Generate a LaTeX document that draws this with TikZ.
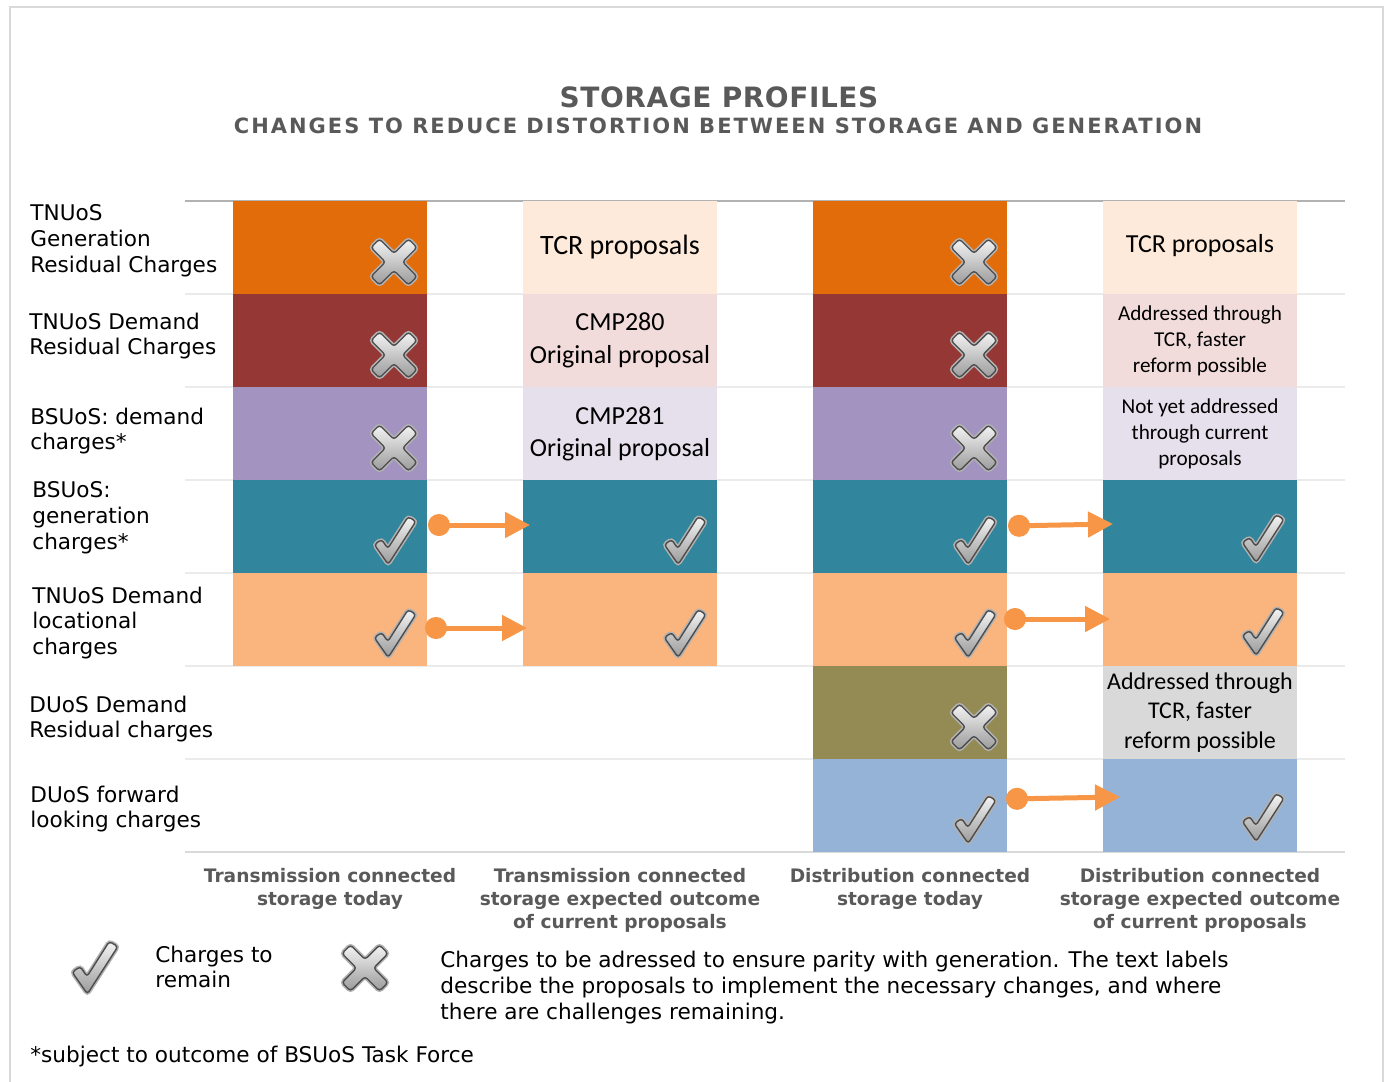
\documentclass[tikz,border=0pt]{standalone}
\usepackage{fontspec}
\setmainfont{DejaVu Sans}
\newfontfamily\cellfont{Carlito}
\definecolor{gencol}{HTML}{E36C0A}
\definecolor{genpale}{HTML}{FDEADA}
\definecolor{demcol}{HTML}{953735}
\definecolor{dempale}{HTML}{F2DCDB}
\definecolor{bsdcol}{HTML}{A393C1}
\definecolor{bsdpale}{HTML}{E5E0EC}
\definecolor{bsgcol}{HTML}{31859C}
\definecolor{loccol}{HTML}{FAB47D}
\definecolor{drescol}{HTML}{948A54}
\definecolor{drespale}{HTML}{D9D9D9}
\definecolor{fwdcol}{HTML}{95B3D7}
\definecolor{arrowcol}{HTML}{F79646}
\definecolor{headgray}{HTML}{595959}
\definecolor{framegray}{HTML}{D9D9D9}
\definecolor{iconlight}{HTML}{F4F4F4}
\definecolor{icondark}{HTML}{9A9A9A}
\definecolor{iconedge}{HTML}{4D4D4D}
\usepackage{tikz}
\usetikzlibrary{positioning,arrows.meta}

\begin{document}
\begin{tikzpicture}[
    x=0.5pt, y=-0.5pt,
    node distance=0pt and 48pt,
    cell/.style={rectangle, minimum width=97pt, minimum height=46.5pt,
                 inner sep=0pt, outer sep=0pt, align=center,
                 font=\cellfont\fontsize{13}{16.5}\selectfont},
    small/.style={font=\cellfont\fontsize{10.6}{13}\selectfont},
    rowlabel/.style={anchor=west, align=left, inner sep=0pt,
                     font=\fontsize{10.8}{12.9}\selectfont},
    colhead/.style={anchor=north, align=center, inner sep=0pt, text=headgray,
                    font=\bfseries\fontsize{9.3}{11.5}\selectfont},
    flow/.style={{Circle[length=11pt]}-{Triangle[length=12.5pt,width=12.5pt]},
                 line width=2.5pt, draw=arrowcol},
    rule/.style={line width=1pt, draw=black!8},
    icon/.style={top color=iconlight, bottom color=icondark, draw=iconedge,
                 line width=0.7pt, rounded corners=1.5pt,
                 preaction={draw, black!30, line width=2.2pt}},
    cross/.pic={
      \shade[icon] (-14.5,23) -- (0,8.5) -- (14.5,23) -- (23,14.5) -- (8.5,0)
        -- (23,-14.5) -- (14.5,-23) -- (0,-8.5) -- (-14.5,-23) -- (-23,-14.5)
        -- (-8.5,0) -- (-23,14.5) -- cycle;
    },
    tick/.pic={
      \shade[icon] (-21.7,5.5) -- (-14.3,0.5) -- (-8.2,9.6) -- (12.1,-22.3)
        -- (19.9,-17.7) -- (-7.8,25.4) -- cycle;
    }
  ]
    \useasboundingbox (0,0) rectangle (1389,1082);
    % frame and table rules
    \draw[line width=1pt, framegray] (10,1082) -- (10,7) -- (1383,7) -- (1383,1082);
    \draw[line width=1pt, black!30] (185,201) -- (1345,201);
    \foreach \y in {294,387,480,573,666,759}
      \draw[rule] (185,\y) -- (1345,\y);
    \draw[line width=1pt, black!15] (185,852) -- (1345,852);

    % headings
    \node[text=headgray, font=\bfseries\fontsize{14}{17}\selectfont\addfontfeature{LetterSpace=2}]
      (title) at (719,97) {STORAGE PROFILES};
    \node[text=headgray, font=\bfseries\fontsize{10.5}{13}\selectfont\addfontfeature{LetterSpace=9.6}]
      (subtitle) at (718,126) {CHANGES TO REDUCE DISTORTION BETWEEN STORAGE AND GENERATION};

    % charge rows
    \node[cell, fill=gencol] (gen1) at (330,247.5) {};
    \node[cell, fill=genpale, right=of gen1, font=\cellfont\fontsize{14}{17}\selectfont] (gen2) {TCR proposals};
    \node[cell, fill=gencol, right=of gen2] (gen3) {};
    \node[cell, fill=genpale, right=of gen3] (gen4) {\raisebox{4pt}{TCR proposals}};

    \node[cell, fill=demcol, below=of gen1] (dem1) {};
    \node[cell, fill=dempale, right=of dem1] (dem2) {CMP280\\Original proposal};
    \node[cell, fill=demcol, right=of dem2] (dem3) {};
    \node[cell, fill=dempale, right=of dem3, small] (dem4) {Addressed through\\TCR, faster\\reform possible};

    \node[cell, fill=bsdcol, below=of dem1] (bsd1) {};
    \node[cell, fill=bsdpale, right=of bsd1] (bsd2) {\raisebox{-9pt}{\begin{tabular}{@{}c@{}}CMP281\\[-0.5pt]Original proposal\end{tabular}}};
    \node[cell, fill=bsdcol, right=of bsd2] (bsd3) {};
    \node[cell, fill=bsdpale, right=of bsd3, small] (bsd4) {Not yet addressed\\through current\\proposals};

    \node[cell, fill=bsgcol, below=of bsd1] (bsg1) {};
    \node[cell, fill=bsgcol, right=of bsg1] (bsg2) {};
    \node[cell, fill=bsgcol, right=of bsg2] (bsg3) {};
    \node[cell, fill=bsgcol, right=of bsg3] (bsg4) {};

    \node[cell, fill=loccol, below=of bsg1] (loc1) {};
    \node[cell, fill=loccol, right=of loc1] (loc2) {};
    \node[cell, fill=loccol, right=of loc2] (loc3) {};
    \node[cell, fill=loccol, right=of loc3] (loc4) {};

    \node[cell, fill=drescol, below=of loc3] (dres3) {};
    \node[cell, fill=drespale, right=of dres3, font=\cellfont\fontsize{12}{14.75}\selectfont] (dres4) {Addressed through\\TCR, faster\\reform possible};

    \node[cell, fill=fwdcol, below=of dres3] (fwd3) {};
    \node[cell, fill=fwdcol, right=of fwd3] (fwd4) {};

    % row labels
    \node[rowlabel] (lgen) at (30,241) {TNUoS\\Generation\\Residual Charges};
    \node[rowlabel] (ldem) at (29,336) {TNUoS Demand\\Residual Charges};
    \node[rowlabel] (lbsd) at (30,431) {BSUoS: demand\\charges*};
    \node[rowlabel] (lbsg) at (32,518) {BSUoS:\\generation\\charges*};
    \node[rowlabel] (lloc) at (32,623) {TNUoS Demand\\locational\\charges};
    \node[rowlabel] (ldres) at (29,719) {DUoS Demand\\Residual charges};
    \node[rowlabel] (lfwd) at (30,809) {DUoS forward\\looking charges};

    % marks
    \pic at ([shift={(-33,-32)}]gen1.south east) {cross};
    \pic at ([shift={(-33,-32)}]dem1.south east) {cross};
    \pic at ([shift={(-33,-32)}]bsd1.south east) {cross};
    \pic at ([shift={(-33,-32)}]gen3.south east) {cross};
    \pic at ([shift={(-33,-32)}]dem3.south east) {cross};
    \pic at ([shift={(-33,-32)}]bsd3.south east) {cross};
    \pic at ([shift={(-33,-32)}]dres3.south east) {cross};
    \pic at ([shift={(-31,-34)}]bsg1.south east) {tick};
    \pic at ([shift={(-31,-34)}]bsg2.south east) {tick};
    \pic at ([shift={(-31,-34)}]bsg3.south east) {tick};
    \pic at ([shift={(-33,-36)}]bsg4.south east) {tick};
    \pic at ([shift={(-31,-34)}]loc1.south east) {tick};
    \pic at ([shift={(-31,-34)}]loc2.south east) {tick};
    \pic at ([shift={(-31,-34)}]loc3.south east) {tick};
    \pic at ([shift={(-33,-36)}]loc4.south east) {tick};
    \pic at ([shift={(-31,-34)}]fwd3.south east) {tick};
    \pic at ([shift={(-33,-36)}]fwd4.south east) {tick};

    % carried over
    \draw[flow] ([shift={(1,-1.5)}]bsg1.east) -- ([shift={(7,-1.5)}]bsg2.west);
    \draw[flow] ([shift={(-2,8.5)}]loc1.east) -- ([shift={(4,8.5)}]loc2.west);
    \draw[flow] ([shift={(1,-0.5)}]bsg3.east) -- ([shift={(10,-2.5)}]bsg4.west);
    \draw[flow] ([shift={(-3,-0.5)}]loc3.east) -- ([shift={(7,-0.5)}]loc4.west);
    \draw[flow] ([shift={(-1,-6.5)}]fwd3.east) -- ([shift={(17,-8.5)}]fwd4.west);

    % column headings
    \node[colhead] (h1) at (330,868) {Transmission connected\\storage today};
    \node[colhead] (h2) at (620,868) {Transmission connected\\storage expected outcome\\of current proposals};
    \node[colhead] (h3) at (910,868) {Distribution connected\\storage today};
    \node[colhead] (h4) at (1200,868) {Distribution connected\\storage expected outcome\\of current proposals};

    % key
    \pic[scale=1.1] at (96,966) {tick};
    \node[rowlabel] (keep) at (155,967) {Charges to\\remain};
    \pic at (365,968) {cross};
    \node[rowlabel, font=\fontsize{10.8}{13}\selectfont] (fix) at (440,988) {Charges to be adressed to ensure parity with generation. The text labels\\describe the proposals to implement the necessary changes, and where\\there are challenges remaining.};
    \node[rowlabel] (foot) at (30,1057) {*subject to outcome of BSUoS Task Force};
  \end{tikzpicture}
\end{document}
